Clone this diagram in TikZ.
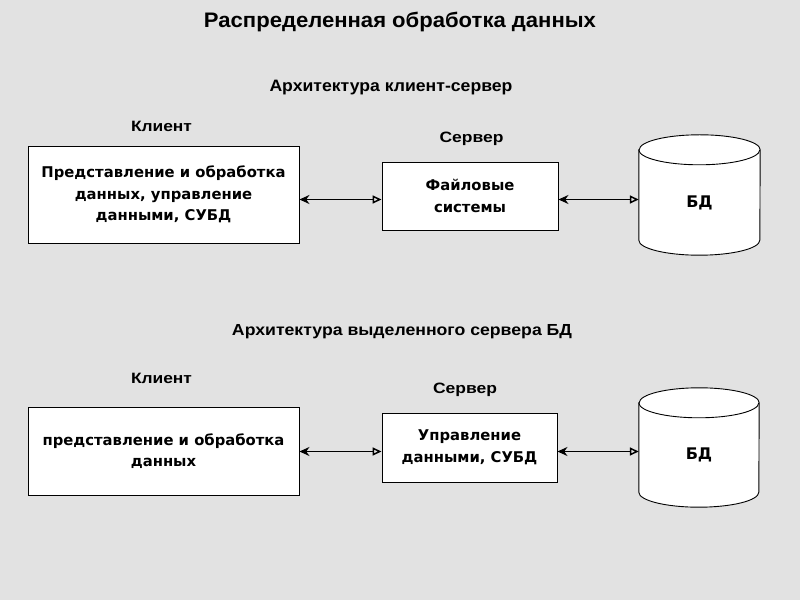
\documentclass[tikz,border=0pt]{standalone}
\usepackage{fontspec}
\usepackage{graphicx}
\setmainfont{Liberation Sans}
\newfontfamily\boxfont{DejaVu Sans}
\usetikzlibrary{arrows.meta,backgrounds}
\definecolor{bgc}{RGB}{226,226,226}
\begin{document}
\begin{tikzpicture}[x=1pt,y=1pt,
  box/.style={draw, fill=white, line width=0.9pt, align=center, inner sep=0pt,
    font=\boxfont\bfseries\fontsize{14.8}{21.5}\selectfont},
  dbnode/.style={inner sep=0pt, font=\boxfont\bfseries\fontsize{16}{18}\selectfont},
  lbl/.style={inner sep=0pt, font=\bfseries},
  conn/.style={line width=1.9pt, {Stealth[length=10pt,width=9pt]}-{Triangle[open,length=9pt,width=8pt,line width=1.5pt]}},
  cyl/.style={draw, fill=white, line width=0.9pt}
]
\begin{scope}[on background layer]
  \fill[bgc] (0,0) rectangle (800,600);
\end{scope}
\useasboundingbox (0,0) rectangle (800,600);

% titles
\node[lbl] (title) at (400,578) {\fontsize{21}{21}\selectfont\resizebox{392pt}{\height}{Распределенная обработка данных}};
\node[lbl] (sub1) at (391,512) {\fontsize{16.5}{16.5}\selectfont\resizebox{243pt}{\height}{Архитектура клиент-сервер}};
\node[lbl] (sub2) at (402,268) {\fontsize{16}{16}\selectfont\resizebox{340pt}{\height}{Архитектура выделенного сервера БД}};

% labels
\node[lbl] (cl1) at (161.5,474) {\fontsize{15}{15}\selectfont\resizebox{61pt}{\height}{Клиент}};
\node[lbl] (sv1) at (471.5,461) {\fontsize{15}{15}\selectfont\resizebox{64pt}{\height}{Сервер}};
\node[lbl] (cl2) at (161.5,222) {\fontsize{15}{15}\selectfont\resizebox{61pt}{\height}{Клиент}};
\node[lbl] (sv2) at (465,210) {\fontsize{15}{15}\selectfont\resizebox{64pt}{\height}{Сервер}};

% top row
\node[box, minimum width=271pt, minimum height=97pt] (b1) at (163.5,405.5)
  {Представление и обработка\\данных, управление\\данными, СУБД};
\node[box, minimum width=176pt, minimum height=68pt] (b2) at (470,404)
  {Файловые\\системы};
\node[dbnode, minimum width=121pt, minimum height=105pt] (db1) at (699.5,397.5) {БД};

% bottom row
\node[box, minimum width=271pt, minimum height=88pt] (b3) at (163.5,149)
  {представление и обработка\\данных};
\node[box, minimum width=175pt, minimum height=69pt] (b4) at (469.5,152.5)
  {Управление\\данными, СУБД};
\node[dbnode, minimum width=120pt, minimum height=104pt] (db2) at (699,145) {БД};

% cylinders
\begin{scope}[on background layer]
  \foreach \d/\r in {db1/60.5pt, db2/60pt}{
    \draw[cyl] (\d.north west) -- ([yshift=15pt]\d.south west)
      arc[start angle=180,end angle=360,x radius=\r,y radius=15pt]
      -- (\d.north east)
      arc[start angle=0,end angle=180,x radius=\r,y radius=15pt] -- cycle;
    \draw[line width=0.9pt] (\d.north west)
      arc[start angle=180,end angle=360,x radius=\r,y radius=15pt];
  }
\end{scope}

% connectors
\draw[conn] ([yshift=-5pt]b1.east) -- ([yshift=-5pt]b1.east -| b2.west);
\draw[conn] ([yshift=-3.5pt]b2.east) -- ([yshift=-3.5pt]b2.east -| db1.west);
\draw[conn] ([yshift=-0.5pt]b3.east) -- ([yshift=-0.5pt]b3.east -| b4.west);
\draw[conn] ([yshift=-4pt]b4.east) -- ([yshift=-4pt]b4.east -| db2.west);
\end{tikzpicture}
\end{document}
